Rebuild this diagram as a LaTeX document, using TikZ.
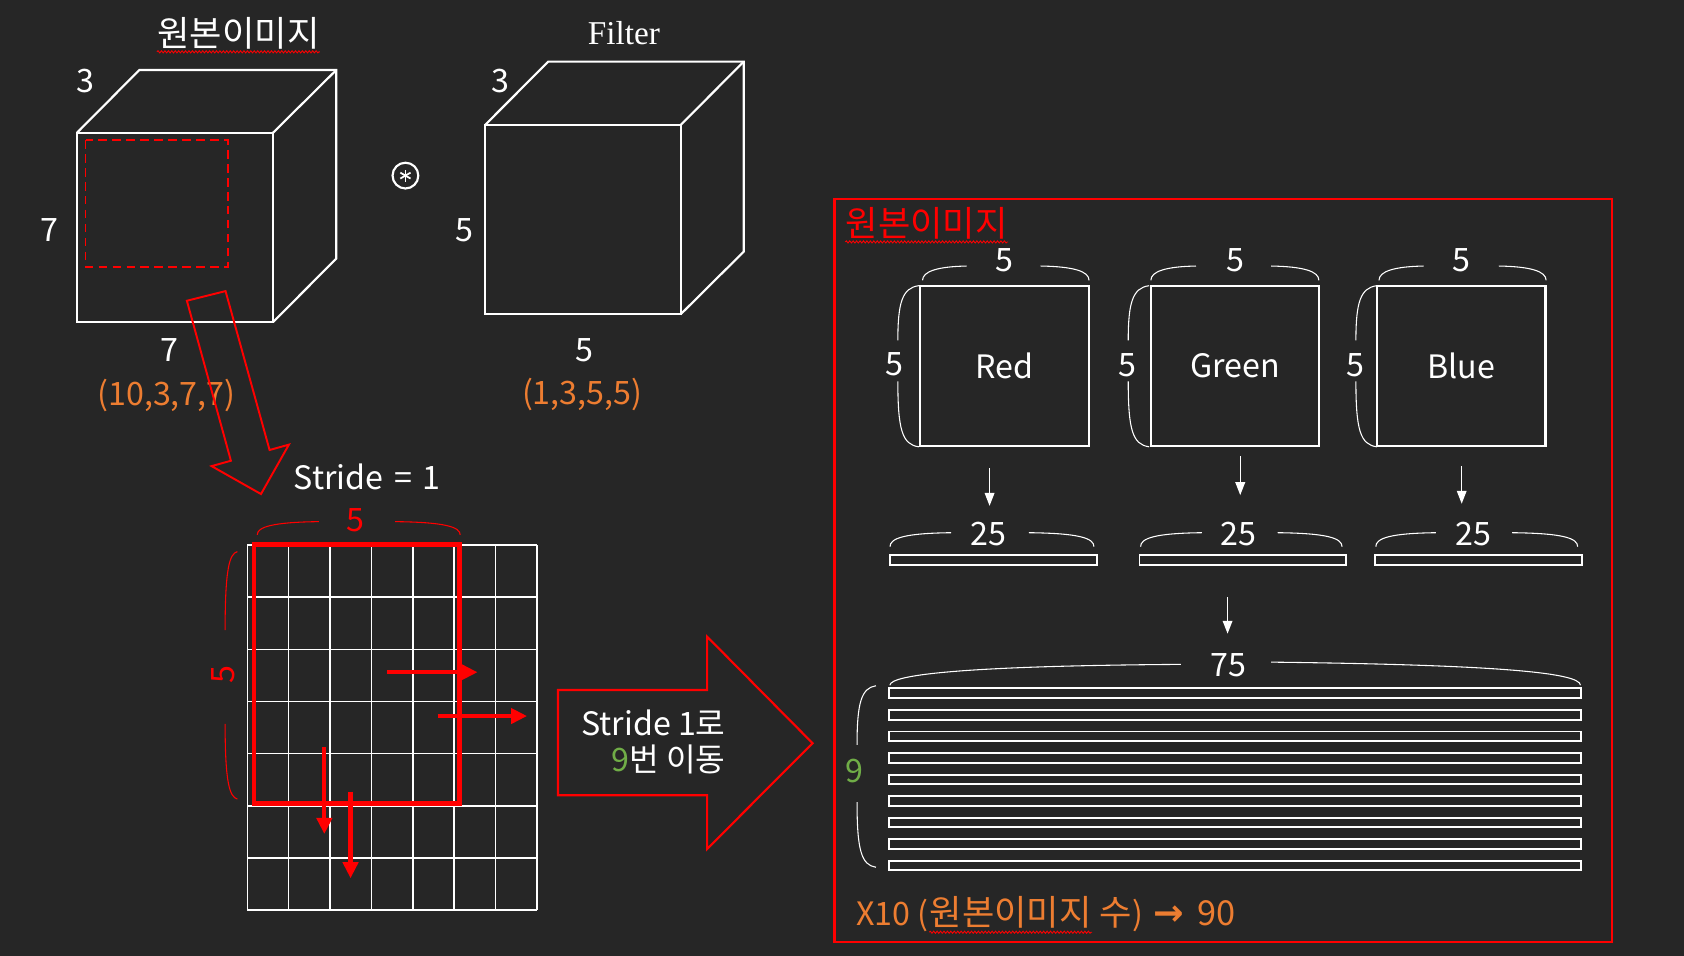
\documentclass[tikz,border=0pt]{standalone}
\usepackage{fontspec}
\setmainfont{Noto Sans CJK KR}
\newfontfamily\serifl{Liberation Serif}
\newfontfamily\djv{DejaVu Sans}
\usetikzlibrary{arrows.meta,decorations.pathmorphing,calc}
\definecolor{bg}{HTML}{262626}
\definecolor{orng}{HTML}{ED7D31}
\definecolor{grn}{HTML}{70AD47}
\newcommand\myfs[1]{\fontsize{#1}{#1}\selectfont}
% horizontal brace: style, xL, xR, yEnd, yTop, gapL, gapR
\newcommand\hbrace[7]{%
  \draw[#1] (#2,#4) .. controls (#2,#5+5) and (#2+14,#5+0.5) .. (#6,#5);
  \draw[#1] (#7,#5) .. controls (#3-14,#5+0.5) and (#3,#5+5) .. (#3,#4);}
% vertical brace: style, yT, yB, xEnd, xMid, gapT, gapB
\newcommand\vbrace[7]{%
  \draw[#1] (#4,#2) .. controls (#5+4,#2+2) and (#5,#2+16) .. (#5,#6);
  \draw[#1] (#5,#7) .. controls (#5,#3-16) and (#5+4,#3-2) .. (#4,#3);}
\begin{document}
\begin{tikzpicture}[x=0.5pt,y=-0.5pt,
  wl/.style={draw=white, line width=1pt},
  lbl/.style={text=white, font=\myfs{15}, inner sep=0pt},
  olbl/.style={lbl, text=orng},
  rlbl/.style={lbl, text=red},
  kor/.style={font=\myfs{16.4}},
  brc/.style={draw=white, line width=0.5pt},
  rbrc/.style={draw=red, line width=0.5pt},
  wavy/.style={draw=red, line width=0.4pt, decorate, decoration={snake, amplitude=0.5pt, segment length=1.6pt}},
  warr/.style={draw=white, line width=0.6pt, -{Triangle[length=6pt,width=4.5pt]}},
  rarr/.style={draw=red, line width=2pt, -{Triangle[length=7.5pt,width=7pt]}},
  sq/.style={wl, minimum width=78.4pt, minimum height=74.5pt, inner sep=0pt, outer sep=0pt, text=white, font=\myfs{15}},
  bar/.style={draw=white, line width=0.9pt}
]
\fill[bg] (0,0) rectangle (1568,890);
\useasboundingbox (0,0) rectangle (1568,890);

% ---------- left cube ----------
\draw[wl] (71.8,123.5) rectangle (254.3,299.8);
\draw[wl] (71.8,123.5) -- (129.7,65.2) -- (313.1,65.2) -- (313.1,240.8) -- (254.3,299.8);
\draw[wl] (254.3,123.5) -- (313.1,65.2);
\draw[red, line width=0.8pt, dash pattern=on 4pt off 2.5pt] (79.7,130.4) rectangle (212.2,248.3);
\node[lbl, kor] (c1t) at (222,31) {원본이미지};
\draw[wavy] ([yshift=-1pt]c1t.south west) -- ([yshift=-1pt]c1t.south east);
\node[lbl] (c1d) at (80,75) {3};
\node[lbl] (c1h) at (46,214) {7};
\node[lbl] (c1w) at (158,326) {7};
\node[olbl] (c1s) at (155,368) {(10,3,7,7)};

% ---------- convolution symbol ----------
\node[circle, draw=white, line width=1pt, minimum size=12pt, inner sep=0pt] (conv) at (377.5,163.5) {};
\foreach \a in {90,30,150}
  \draw[white, line width=0.8pt] ($(conv.center)+(\a:5.5)$) -- ($(conv.center)+(\a+180:5.5)$);

% ---------- filter cube ----------
\draw[wl] (451.6,116.4) rectangle (633.7,292.7);
\draw[wl] (451.6,116.4) -- (510.5,57.4) -- (692.5,57.4) -- (692.5,234.3) -- (633.7,292.7);
\draw[wl] (633.7,116.4) -- (692.5,57.4);
\node[lbl, font=\serifl\myfs{15.5}] (ft) at (581,31) {Filter};
\node[lbl] (fd) at (466,75) {3};
\node[lbl] (fh) at (432,214) {5};
\node[lbl] (fw) at (544,326) {5};
\node[olbl] (fs) at (542,367) {(1,3,5,5)};

% ---------- slanted block arrow ----------
\draw[red, line width=0.9pt] (174,280) -- (210,271) -- (251,419) -- (269,414) -- (243,460) -- (197,434) -- (215,429) -- cycle;
\node[lbl] (stride) at (342,444) {Stride\,\,=\,\,1};

% ---------- grid ----------
\foreach \i in {0,...,7}
  \draw[white, line width=0.7pt] (230.3+\i*38.53,507.5) -- ++(0,339.9);
\foreach \j in {0,...,7}
  \draw[white, line width=0.7pt] (230.3,507.5+\j*48.56) -- ++(269.7,0);
\draw[red, line width=2pt] (236.5,506.9) rectangle (427.9,748);
\hbrace{rbrc}{239.5}{428.5}{498}{485.7}{297}{368}
\node[rlbl] (g5t) at (331,484) {5};
\vbrace{rbrc}{513.6}{744}{221}{209.6}{586.6}{674}
\node[rlbl, rotate=90] (g5l) at (208,628) {5};
\coordinate (m1s) at (360.8,625.9); \coordinate (m1e) at (444.7,625.9);
\coordinate (m2s) at (407.5,666.7); \coordinate (m2e) at (490.8,666.7);
\coordinate (m3s) at (302,695.9);   \coordinate (m3e) at (302,776.6);
\coordinate (m4s) at (326.4,737);   \coordinate (m4e) at (326.4,817.8);
\draw[rarr] (m1s) -- (m1e);
\draw[rarr] (m2s) -- (m2e);
\draw[rarr] (m3s) -- (m3e);
\draw[rarr] (m4s) -- (m4e);

% ---------- big block arrow ----------
\draw[red, line width=1pt] (519.6,642.5) -- (658.4,642.5) -- (658.4,592.8) -- (756.6,692) -- (658.4,790.5) -- (658.4,740.5) -- (519.6,740.5) -- cycle;
\node[lbl, anchor=east] (ba1) at (676,673) {Stride 1로};
\node[lbl, anchor=east] (ba2) at (676,707) {{\color{grn}9}번 이동};

% ---------- right frame ----------
\draw[red, line width=1pt] (777,185.6) rectangle (1501,876.8);
\node[rlbl, kor, anchor=west] (fr) at (787,208) {원본이미지};
\draw[wavy] ([yshift=-1pt]fr.south west) -- ([yshift=-1pt]fr.south east);

\node[sq] (red) at (935.35,340.8) {Red};
\node[sq] (green) at (1150,340.8) {Green};
\node[sq] (blue) at (1360.6,340.8) {Blue};

\hbrace{brc}{859}{1014}{261}{247.7}{900}{969}
\hbrace{brc}{1071.6}{1228}{261}{247.7}{1113.6}{1183.5}
\hbrace{brc}{1284}{1439.6}{261}{247.7}{1325.6}{1395.6}
\node[lbl] (r5t) at (935,242) {5};
\node[lbl] (g5tt) at (1150,242) {5};
\node[lbl] (b5t) at (1361,242) {5};

\vbrace{brc}{266}{416}{855.5}{836}{317}{355}
\vbrace{brc}{266}{416}{1070}{1050.5}{317}{355}
\vbrace{brc}{266}{416}{1282}{1262.5}{317}{355}
\node[lbl] (r5l) at (833,339) {5};
\node[lbl] (g5ll) at (1050,340) {5};
\node[lbl] (b5l) at (1262,340) {5};

\coordinate (a1s) at (921.4,435.8); \coordinate (a1e) at (921.4,471);
\coordinate (a2s) at (1154.8,425);  \coordinate (a2e) at (1154.8,461);
\coordinate (a3s) at (1361,434);    \coordinate (a3e) at (1361,469);
\draw[warr] (a1s) -- (a1e);
\draw[warr] (a2s) -- (a2e);
\draw[warr] (a3s) -- (a3e);

\draw[bar] (828.7,516.8) rectangle (1021.3,526);
\draw[bar] (1061,516.8) rectangle (1253.5,526);
\draw[bar] (1280,516.8) rectangle (1473,526);
\hbrace{brc}{828.7}{1018.6}{509}{496}{885.6}{958}
\hbrace{brc}{1062}{1249.6}{509}{496}{1119}{1189.7}
\hbrace{brc}{1281}{1469}{509}{496}{1337}{1408}
\node[lbl] (r25) at (920,497) {25};
\node[lbl] (g25) at (1153,497) {25};
\node[lbl] (b25) at (1372,497) {25};

\coordinate (a4s) at (1143,556); \coordinate (a4e) at (1143,590);
\draw[warr] (a4s) -- (a4e);

\draw[brc] (828.6,638) .. controls (829,628) and (900,620) .. (1099.6,618.6);
\draw[brc] (1183.5,616.5) .. controls (1390,619) and (1471,626) .. (1471.6,638);
\node[lbl] (n75) at (1144,619) {75};

\foreach \k in {0,...,8}
  \draw[bar] (828,641+\k*20.05) rectangle (1472.5,650+\k*20.05);

\vbrace{brc}{638.5}{807.5}{815.6}{798}{693.6}{746.9}
\node[lbl, text=grn] (n9) at (796,718) {9};

% bottom caption
\node[olbl, anchor=base west] (x10a) at (797,862) {X10 (};
\node[olbl, kor, anchor=base west] (x10b) at (x10a.base east) {원본이미지};
\node[olbl, anchor=base west] (x10c) at (x10b.base east) {\ {\myfs{16.4}수})\hspace{5pt}{\djv\bfseries\myfs{17}→}\hspace{6pt}{\myfs{16}90}};
\draw[wavy] ([yshift=-1.5pt]x10b.south west) -- ([yshift=-1.5pt]x10b.south east);
\end{tikzpicture}
\end{document}
